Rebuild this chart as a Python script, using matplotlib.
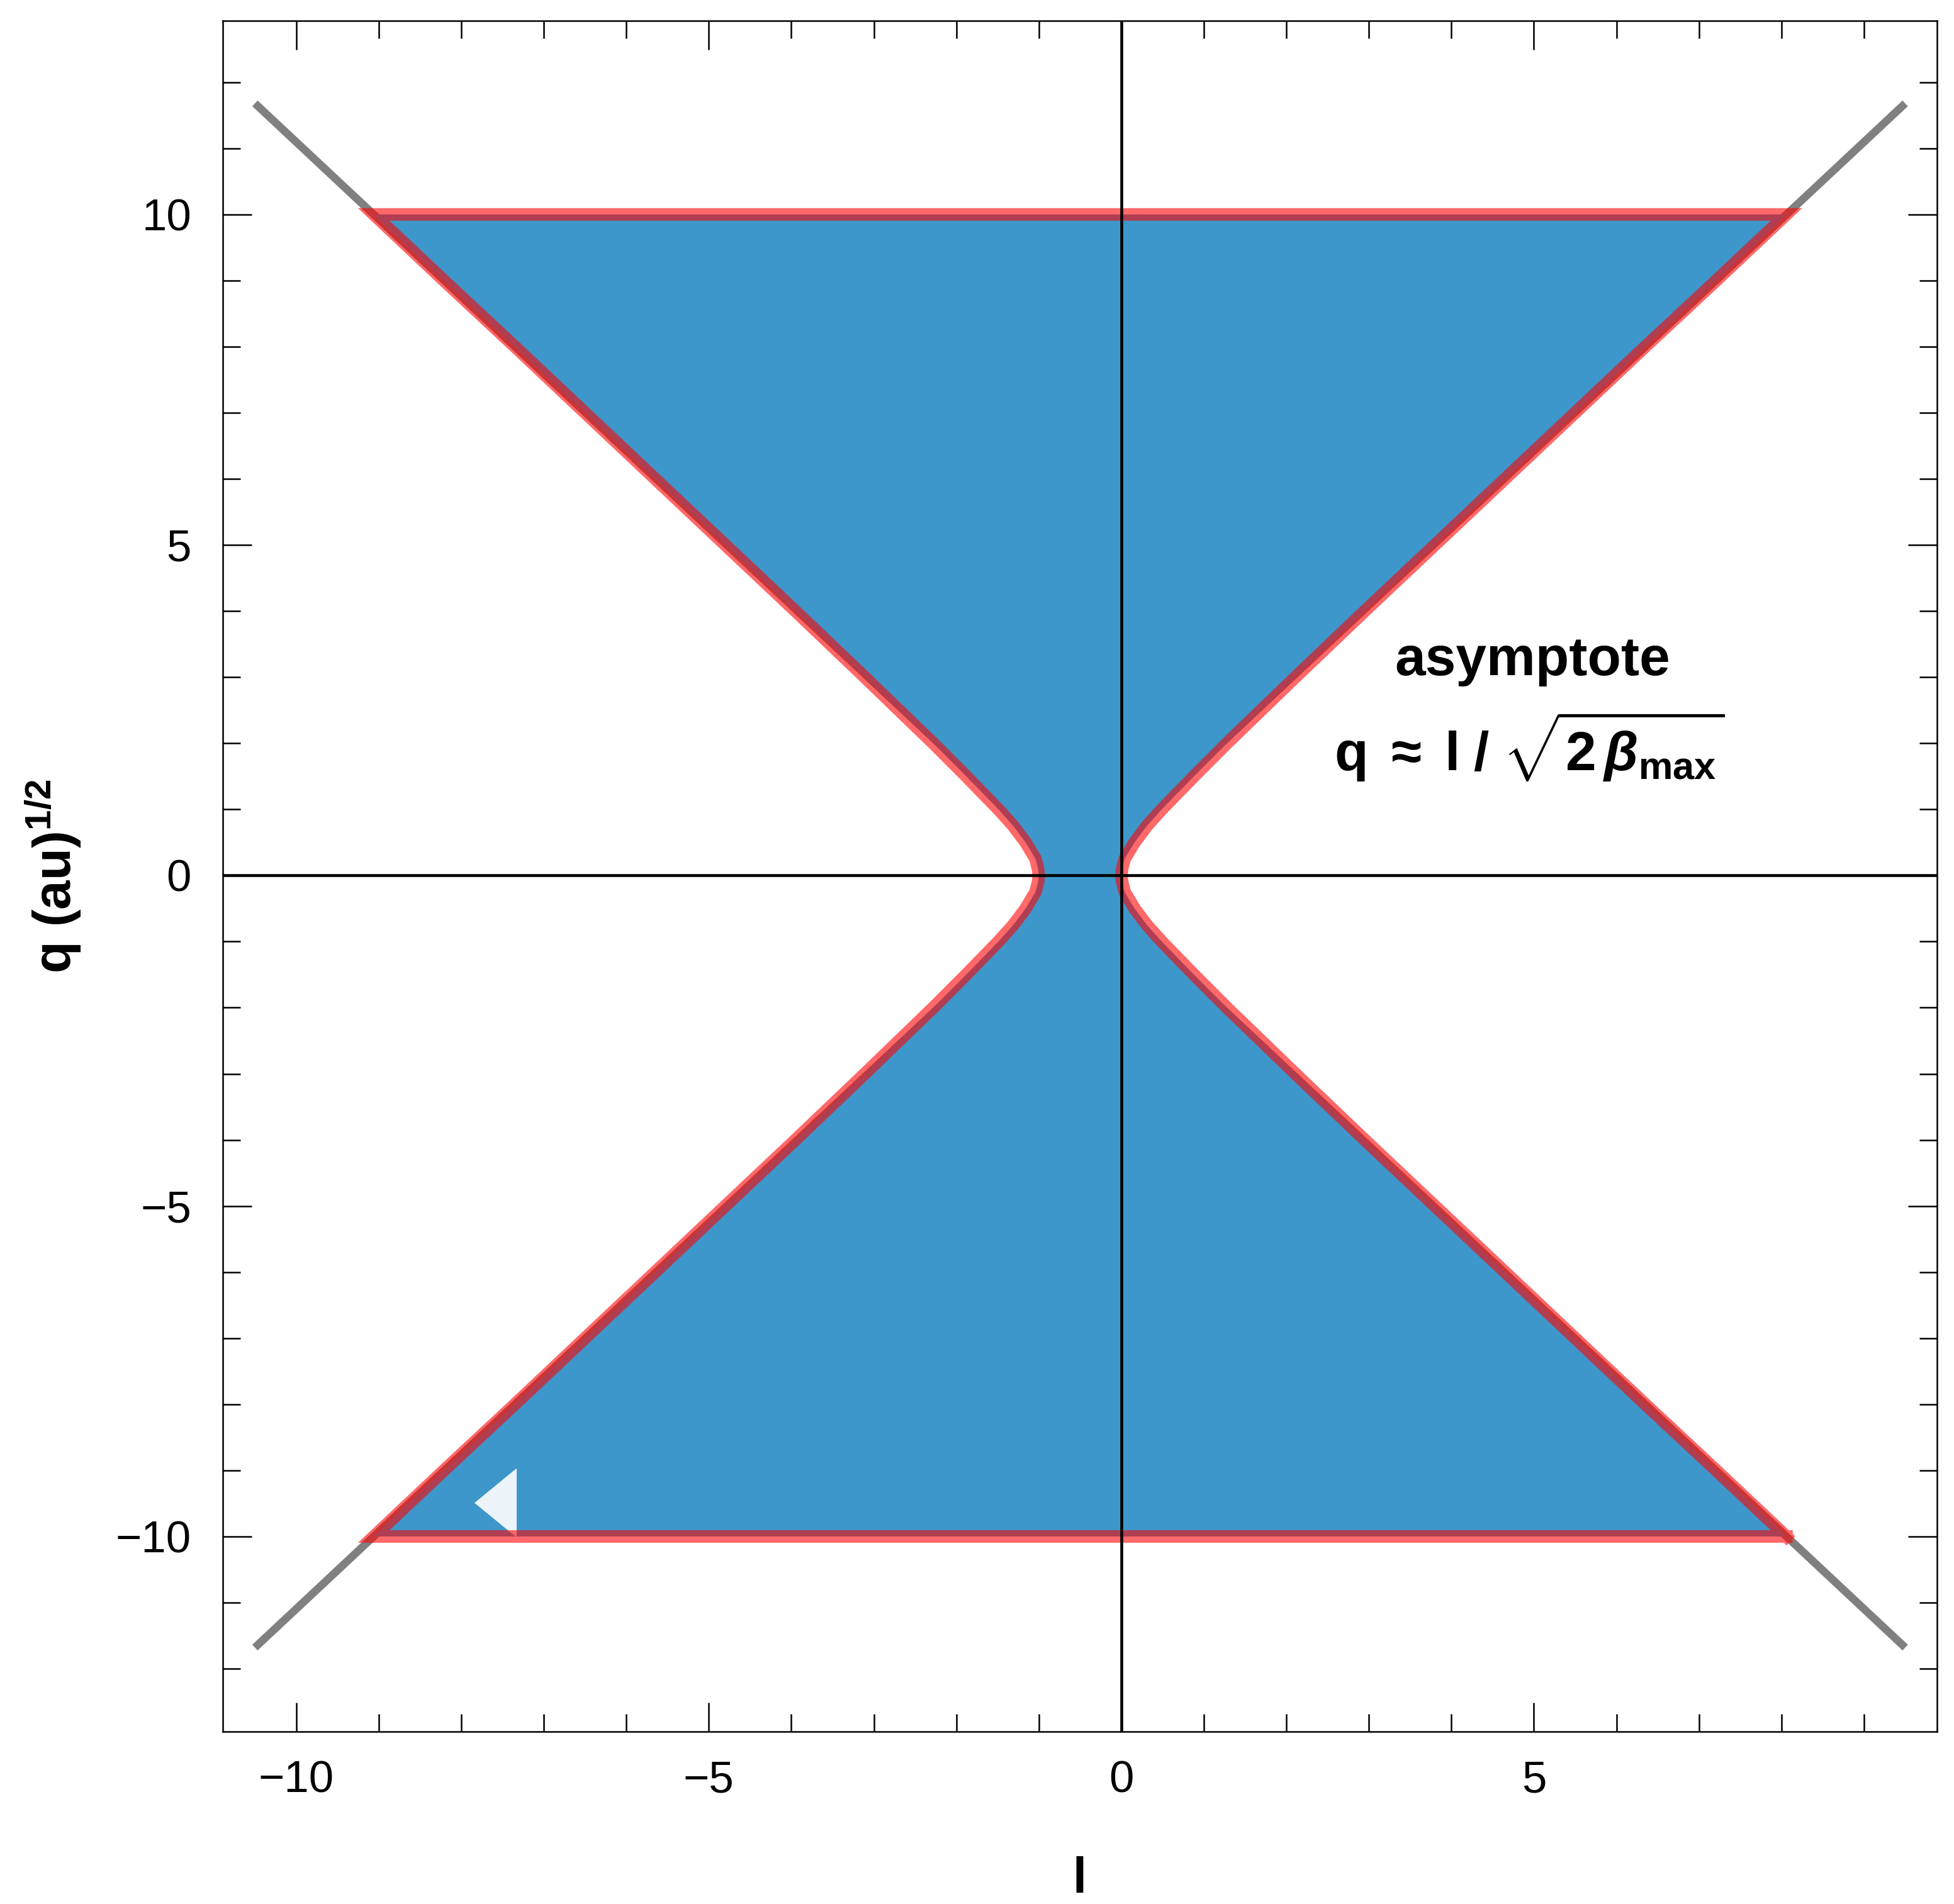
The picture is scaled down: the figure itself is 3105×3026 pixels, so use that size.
import numpy as np
import matplotlib
matplotlib.use("Agg")
import matplotlib.pyplot as plt

plt.rcParams['font.family'] = ['Liberation Sans', 'DejaVu Sans']
plt.rcParams['mathtext.fontset'] = 'custom'
plt.rcParams['mathtext.rm'] = 'Liberation Sans:bold'
plt.rcParams['mathtext.it'] = 'Liberation Sans:italic:bold'
plt.rcParams['mathtext.bf'] = 'Liberation Sans:bold'

# upper half of the boundary (the lower half is its mirror in q)
q_half = [0.0, 0.1, 0.25, 0.5, 0.75, 1.0, 1.5, 2.0, 3.0, 4.0, 5.0, 6.0, 7.0, 8.0, 9.0, 10.0]
l_right_half = [0.0, 0.01, 0.04, 0.16, 0.31, 0.49, 0.88, 1.28, 2.11, 2.95, 3.80, 4.65, 5.50, 6.35, 7.21, 8.06]
l_left_half = [-1.0, -1.01, -1.04, -1.16, -1.31, -1.49, -1.88, -2.28, -3.11, -3.95, -4.80, -5.65, -6.50, -7.35, -8.21, -9.06]

# grey asymptote segments (end points)
asym1_l = [-10.5, 9.5]
asym1_q = [11.68, -11.68]
asym2_l = [-10.5, 9.5]
asym2_q = [-11.68, 11.68]

# small pale triangle inside the lower lobe
tri_l = [-7.59]
tri_q = [-9.49]

x_major = [-10, -5, 0, 5]
y_major = [-10, -5, 0, 5, 10]

# build the closed outline: right branch bottom->top, left branch top->bottom
q_half = np.array(q_half)
q_full = np.concatenate([-q_half[::-1], q_half[1:]])
l_right = np.concatenate([np.array(l_right_half)[::-1], l_right_half[1:]])
l_left = np.concatenate([np.array(l_left_half)[::-1], l_left_half[1:]])
outline_l = np.concatenate([l_right, l_left[::-1], l_right[:1]])
outline_q = np.concatenate([q_full, q_full[::-1], q_full[:1]])

fig = plt.figure(figsize=(10.35, 10.0867), dpi=300)
ax = fig.add_axes([0.1140, 0.0906, 0.8773, 0.8985])

ax.plot(asym1_l, asym1_q, color='#808080', lw=3.0, solid_capstyle='butt', zorder=1)
ax.plot(asym2_l, asym2_q, color='#808080', lw=3.0, solid_capstyle='butt', zorder=1)

ax.fill(outline_l, outline_q, color='#3e97ca', lw=0, zorder=2)

tri_marker = [(-0.305, 0.0), (0.305, 0.5), (0.305, -0.5), (-0.305, 0.0)]
ax.plot(tri_l, tri_q, ls='none', marker=tri_marker, markersize=26.4,
        color='#ecf4fa', markeredgewidth=0, zorder=2.5)

ax.plot(outline_l, outline_q, color='red', alpha=0.59, lw=4.8,
        solid_joinstyle='miter', zorder=3)

ax.axhline(0, color='black', lw=1.1, zorder=4)
ax.axvline(0, color='black', lw=1.1, zorder=4)

ax.text(4.98, 3.24, 'asymptote', fontsize=21, fontweight='bold',
        ha='center', va='center', zorder=5)
ax.text(4.95, 1.95, r'$\mathrm{q}\;\approx\;\mathrm{l}\;/\;\sqrt{2\,\beta_{\mathrm{max}}}$',
        fontsize=21, ha='center', va='center', zorder=5)

ax.set_xlim(-10.89, 9.885)
ax.set_ylim(-12.95, 12.93)
ax.set_xticks(x_major)
ax.set_yticks(y_major)
ax.set_xticks(np.arange(-10, 10), minor=True)
ax.set_yticks(np.arange(-12, 13), minor=True)
ax.tick_params(which='both', direction='in', top=True, right=True, width=0.6,
               labelsize=17)
ax.tick_params(which='major', length=11)
ax.tick_params(which='minor', length=6.7)
ax.tick_params(axis='x', pad=11)
ax.tick_params(axis='y', pad=12)
for s in ax.spines.values():
    s.set_linewidth(0.6)

ax.set_xlabel('l', fontsize=19, fontweight='bold')
ax.set_ylabel(r'q (au)$^{\mathit{1/2}}$', fontsize=20, fontweight='bold')
ax.xaxis.set_label_coords(0.5, -0.073)
ax.yaxis.set_label_coords(-0.0815, 0.5)

fig.savefig('out.png', dpi=300)
